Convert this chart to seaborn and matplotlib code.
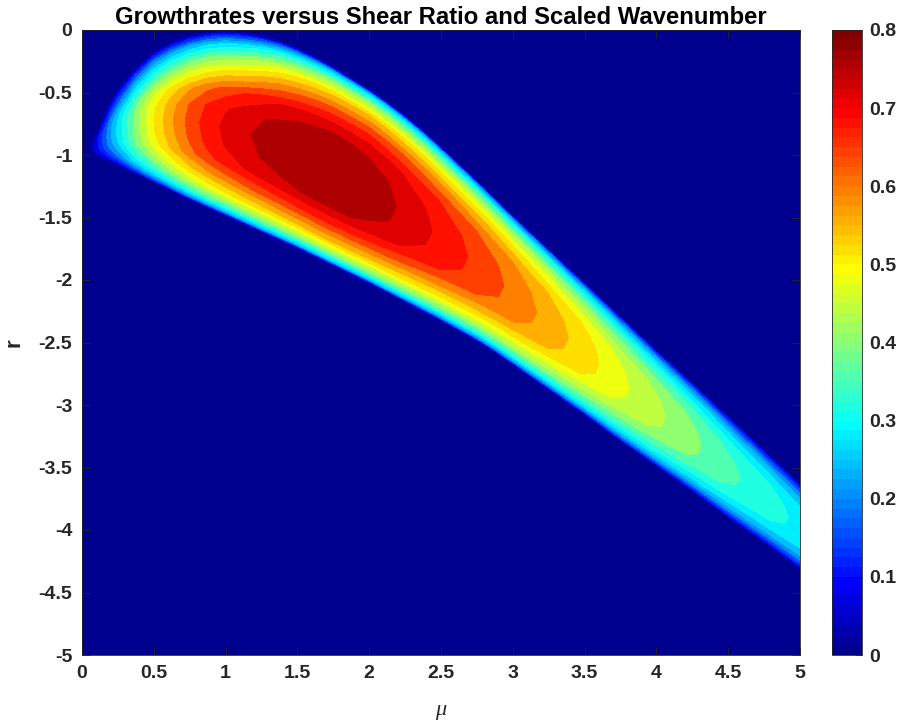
import numpy as np
import matplotlib
matplotlib.use("Agg")
import matplotlib.pyplot as plt
from matplotlib.colors import ListedColormap, Normalize
from matplotlib.cm import ScalarMappable
import seaborn as sns

# shear ratio columns, with the lower / upper edge of the unstable band (r)
mu = [0.05, 0.1, 0.15, 0.2, 0.25, 0.375, 0.5, 0.625, 0.75, 0.875, 1.0, 1.125,
      1.25, 1.375, 1.5, 1.625, 1.75, 1.875, 2.0, 2.125, 2.25, 2.375, 2.5, 2.625,
      2.75, 2.875, 3.0, 3.125, 3.25, 3.375, 3.5, 3.625, 3.75, 3.875, 4.0, 4.125,
      4.25, 4.375, 4.5, 4.625, 4.75, 4.875, 5.0]
r_lower = [-0.98, -1.00, -1.03, -1.055, -1.08, -1.15, -1.22, -1.29, -1.36, -1.425, -1.49, -1.555,
           -1.62, -1.685, -1.75, -1.82, -1.89, -1.96, -2.03, -2.105, -2.18, -2.255, -2.33, -2.41,
           -2.49, -2.58, -2.68, -2.78, -2.88, -2.98, -3.08, -3.185, -3.29, -3.39, -3.49, -3.59,
           -3.69, -3.795, -3.90, -4.00, -4.10, -4.205, -4.31]
r_upper = [-0.96, -0.83, -0.69, -0.57, -0.47, -0.30, -0.17, -0.09, -0.04, -0.01, 0.0, -0.01,
           -0.04, -0.08, -0.14, -0.21, -0.29, -0.38, -0.47, -0.57, -0.68, -0.80, -0.93, -1.065,
           -1.20, -1.34, -1.48, -1.615, -1.75, -1.885, -2.02, -2.155, -2.29, -2.425, -2.56, -2.69,
           -2.82, -2.955, -3.09, -3.225, -3.36, -3.495, -3.63]

# where each sample sits across the band (0 = lower edge, 1 = upper edge)
band_frac = [0, 0.02, 0.06, 0.12, 0.2, 0.29, 0.38, 0.48, 0.58, 0.68, 0.78, 0.86, 0.93, 0.975, 1]

# growth rate, one row per mu column
growth = [
    [0, 0, 0, 0, 0, 0, 0, 0, 0, 0, 0, 0, 0, 0, 0],
    [0, .031, .052, .070, .085, .096, .099, .100, .098, .090, .072, .056, .038, .019, 0],
    [0, .053, .088, .119, .144, .162, .168, .170, .167, .153, .122, .095, .065, .032, 0],
    [0, .073, .122, .165, .199, .224, .233, .235, .230, .212, .169, .132, .089, .045, 0],
    [0, .090, .151, .203, .245, .277, .287, .290, .284, .261, .209, .162, .110, .055, 0],
    [0, .130, .218, .294, .355, .401, .416, .420, .412, .378, .302, .235, .160, .080, 0],
    [0, .161, .270, .364, .439, .497, .515, .520, .510, .468, .374, .291, .198, .099, 0],
    [0, .184, .309, .417, .503, .568, .589, .595, .583, .536, .428, .333, .226, .113, 0],
    [0, .203, .341, .459, .553, .626, .648, .655, .642, .590, .472, .367, .249, .124, 0],
    [0, .217, .364, .490, .592, .669, .693, .700, .686, .630, .504, .392, .266, .133, 0],
    [0, .226, .380, .511, .617, .697, .723, .730, .715, .657, .526, .409, .277, .139, 0],
    [0, .233, .392, .527, .636, .719, .745, .753, .738, .678, .542, .422, .286, .143, 0],
    [0, .239, .400, .539, .651, .735, .762, .770, .756, .701, .574, .456, .316, .168, 0],
    [0, .243, .408, .549, .662, .749, .776, .784, .771, .720, .601, .483, .339, .187, 0],
    [0, .246, .413, .557, .672, .759, .787, .795, .783, .738, .624, .509, .362, .207, 0],
    [0, .248, .416, .560, .676, .764, .792, .800, .789, .749, .644, .531, .382, .225, 0],
    [0, .248, .416, .560, .676, .764, .792, .800, .790, .755, .659, .550, .400, .242, 0],
    [0, .246, .413, .557, .672, .759, .787, .795, .786, .755, .665, .560, .409, .251, 0],
    [0, .243, .408, .550, .663, .750, .777, .785, .777, .750, .667, .565, .416, .259, 0],
    [0, .239, .400, .539, .651, .735, .762, .770, .762, .735, .655, .554, .408, .254, 0],
    [0, .233, .390, .525, .634, .716, .743, .750, .743, .716, .638, .540, .398, .248, 0],
    [0, .226, .380, .511, .617, .697, .723, .730, .723, .697, .621, .526, .387, .241, 0],
    [0, .220, .369, .497, .600, .678, .703, .710, .703, .678, .604, .511, .376, .234, 0],
    [0, .214, .359, .483, .583, .659, .683, .690, .683, .659, .587, .497, .366, .228, 0],
    [0, .208, .348, .469, .566, .640, .663, .670, .663, .640, .570, .482, .355, .221, 0],
    [0, .202, .338, .455, .549, .621, .644, .650, .644, .621, .553, .468, .345, .215, 0],
    [0, .195, .328, .441, .532, .602, .624, .630, .624, .602, .536, .454, .334, .208, 0],
    [0, .188, .316, .425, .513, .580, .601, .607, .601, .580, .516, .437, .322, .200, 0],
    [0, .181, .304, .410, .494, .559, .579, .585, .579, .559, .497, .421, .310, .193, 0],
    [0, .174, .292, .393, .475, .537, .556, .562, .556, .537, .478, .405, .298, .185, 0],
    [0, .167, .281, .378, .456, .516, .535, .540, .535, .516, .459, .389, .286, .178, 0],
    [0, .160, .268, .361, .435, .492, .510, .515, .510, .492, .438, .371, .273, .170, 0],
    [0, .152, .255, .343, .414, .468, .485, .490, .485, .468, .417, .353, .260, .162, 0],
    [0, .146, .244, .329, .397, .449, .465, .470, .465, .449, .400, .338, .249, .155, 0],
    [0, .140, .234, .315, .380, .430, .446, .450, .446, .430, .383, .324, .239, .149, 0],
    [0, .133, .224, .301, .363, .411, .426, .430, .426, .411, .366, .310, .228, .142, 0],
    [0, .127, .213, .287, .346, .392, .406, .410, .406, .392, .349, .295, .217, .135, 0],
    [0, .121, .203, .273, .330, .372, .386, .390, .386, .372, .332, .281, .207, .129, 0],
    [0, .115, .192, .259, .313, .353, .366, .370, .366, .353, .315, .266, .196, .122, 0],
    [0, .110, .185, .249, .300, .339, .351, .355, .351, .339, .302, .256, .188, .117, 0],
    [0, .105, .177, .238, .287, .325, .337, .340, .337, .325, .289, .245, .180, .112, 0],
    [0, .101, .169, .228, .275, .310, .322, .325, .322, .310, .276, .234, .172, .107, 0],
    [0, .096, .161, .217, .262, .296, .307, .310, .307, .296, .264, .223, .164, .102, 0],
]

x_ticks = [0, 0.5, 1, 1.5, 2, 2.5, 3, 3.5, 4, 4.5, 5]
y_ticks = [-5, -4.5, -4, -3.5, -3, -2.5, -2, -1.5, -1, -0.5, 0]
cbar_ticks = [0, 0.1, 0.2, 0.3, 0.4, 0.5, 0.6, 0.7, 0.8]


def matlab_jet(m=64):
    # same construction as MATLAB's jet(m)
    n = int(np.ceil(m / 4))
    u = np.concatenate([np.arange(1, n + 1) / n, np.ones(n - 1), np.arange(n, 0, -1) / n])
    g = int(np.ceil(n / 2)) - int(m % 4 == 1) + np.arange(1, len(u) + 1)
    rgb = np.zeros((m, 3))
    for col, idx in ((0, g + n), (1, g), (2, g - n)):
        ok = (idx >= 1) & (idx <= m)
        rgb[idx[ok] - 1, col] = u[ok]
    return ListedColormap(rgb)


sns.set_theme(style="ticks")
plt.rcParams["font.family"] = ["Liberation Sans", "DejaVu Sans"]
plt.rcParams["font.weight"] = "bold"
plt.rcParams["axes.unicode_minus"] = False

cmap = matlab_jet(64)
norm = Normalize(0, 0.8)
levels = list(np.arange(0, 0.8, 0.04)) + [0.85]
fill_colors = [cmap(norm(v)) for v in levels[:-1]]

frac = np.array(band_frac)[:, None]
lo = np.array(r_lower)[None, :]
hi = np.array(r_upper)[None, :]
X = np.tile(mu, (len(band_frac), 1))
Y = lo + frac * (hi - lo)
Z = np.array(growth).T

fig = plt.figure(figsize=(8.99, 7.27), dpi=100)
ax = fig.add_axes([82 / 899, 72 / 727, 718 / 899, 625 / 727])
cax = fig.add_axes([832 / 899, 72 / 727, 30 / 899, 625 / 727])

ax.set_facecolor(cmap(0))
ax.contourf(X, Y, Z, levels=levels, colors=fill_colors)

ax.set_xlim(0, 5)
ax.set_ylim(-5, 0)
ax.set_xticks(x_ticks)
ax.set_xticklabels([f"{v:g}" for v in x_ticks])
ax.set_yticks(y_ticks)
ax.set_yticklabels([f"{v:g}" for v in y_ticks])
ax.tick_params(direction="in", top=True, right=True, length=6, width=0.6,
               color="#262626", labelcolor="#262626", labelsize=14, pad=7)
for sp in ax.spines.values():
    sp.set_color("#262626")
    sp.set_linewidth(0.6)

ax.set_title("Growthrates versus Shear Ratio and Scaled Wavenumber",
             fontsize=17.2, fontweight="bold", color="black", pad=4)
ax.set_xlabel("μ", fontsize=16, fontstyle="italic", fontweight="normal",
              family="Liberation Serif", color="#262626", labelpad=14)
ax.set_ylabel("r", fontsize=16, fontweight="bold", color="#262626", labelpad=10)

cb = fig.colorbar(ScalarMappable(norm=norm, cmap=cmap), cax=cax, ticks=cbar_ticks)
cb.ax.set_yticklabels([f"{v:g}" for v in cbar_ticks])
cb.ax.tick_params(direction="in", length=5, width=0.6, color="#262626",
                  labelcolor="#262626", labelsize=14, pad=5)
cb.outline.set_edgecolor("#262626")
cb.outline.set_linewidth(0.6)

fig.savefig("out.png", dpi=100)
